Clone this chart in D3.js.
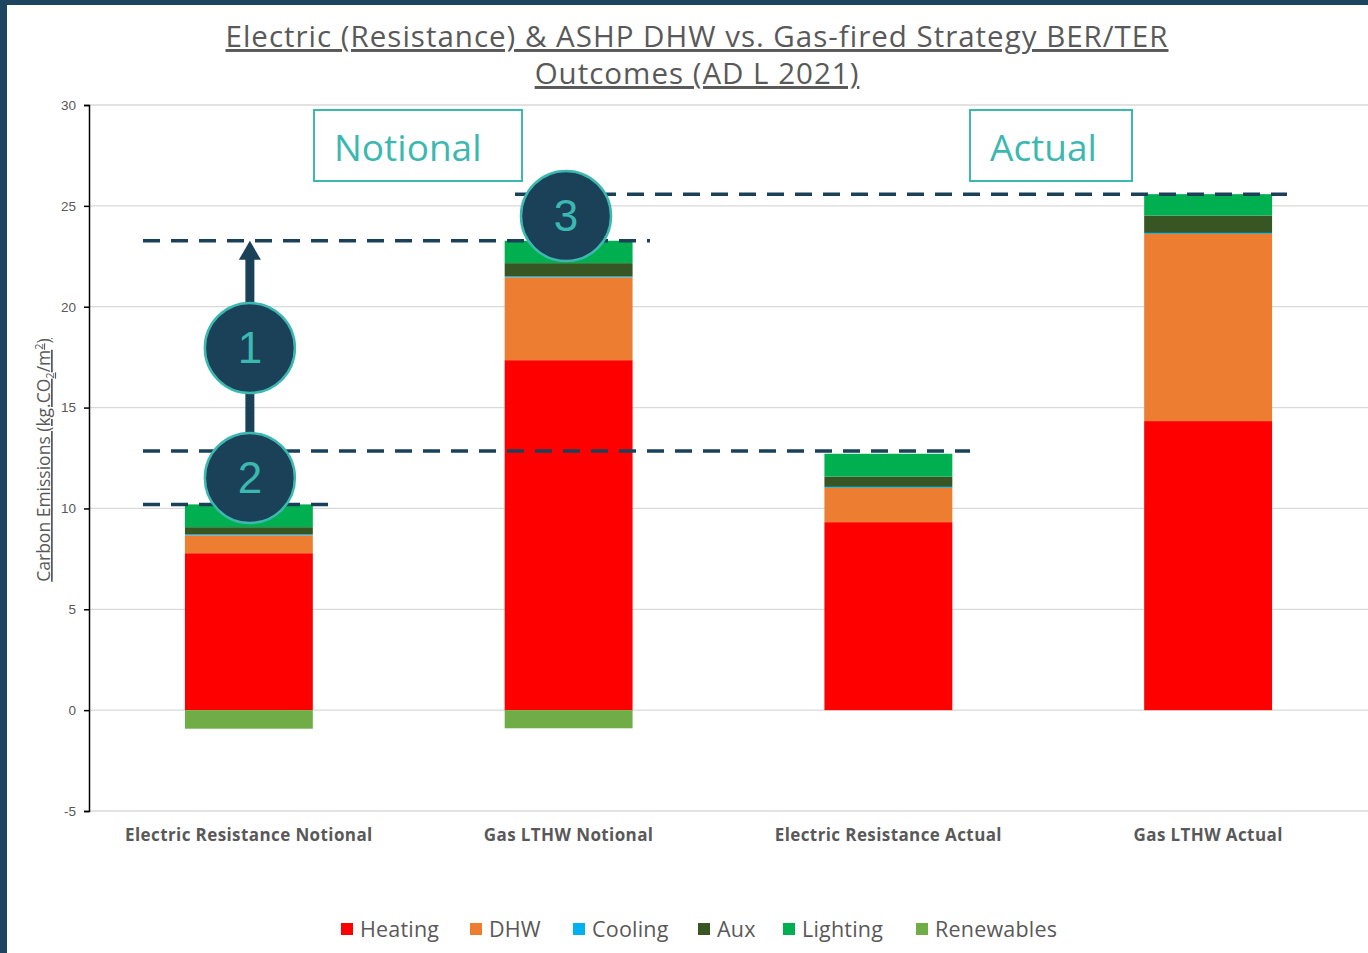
<!DOCTYPE html>
<html>
<head>
<meta charset="utf-8">
<script src="https://cdn.jsdelivr.net/npm/d3@7"></script>
<style>
  body { margin: 0; background: #fff; }
  svg { display: block; font-family: "Open Sans", "Noto Sans", sans-serif; }
</style>
</head>
<body>
<svg id="chart" width="1368" height="953"></svg>
<script>
var categories = ["Electric Resistance Notional", "Gas LTHW Notional", "Electric Resistance Actual", "Gas LTHW Actual"];
var seriesNames = ["Heating", "DHW", "Cooling", "Aux", "Lighting", "Renewables"];
var seriesColors = ["#ff0000", "#ed7d31", "#00b0f0", "#375623", "#00b050", "#70ad47"];
var heating = [7.78, 17.35, 9.32, 14.33];
var dhw = [0.88, 4.1, 1.7, 9.28];
var cooling = [0.05, 0.05, 0.05, 0.05];
var aux = [0.36, 0.66, 0.51, 0.86];
var lighting = [1.13, 1.11, 1.13, 1.06];
var renewables = [-0.92, -0.9, 0, 0];
var yTicks = [-5, 0, 5, 10, 15, 20, 25, 30];

var svg = d3.select("#chart");
var W = 1368, H = 953;
var darkBlue = "#1b4159", teal = "#3cb8b0";

// frame border top / left
svg.append("rect").attr("x", 0).attr("y", 0).attr("width", W).attr("height", 5).attr("fill", "#1e4560");
svg.append("rect").attr("x", 0).attr("y", 0).attr("width", 7).attr("height", H).attr("fill", "#1e4560");

var x = d3.scaleBand().domain(categories).range([89, 1368]).paddingInner(0.6).paddingOuter(0.3);
var y = d3.scaleLinear().domain([-5, 30]).range([811, 105]);

//gridlines
svg.append("g").selectAll("line").data(yTicks).enter().append("line")
    .attr("x1", 89).attr("x2", 1368)
    .attr("y1", d => y(d)).attr("y2", d => y(d))
    .attr("stroke", "#d9d9d9").attr("stroke-width", 1.3);

//stacked data
var valuesBySeries = [heating, dhw, cooling, aux, lighting, renewables];
var rows = categories.map((c, i) => {
    var r = { cat: c };
    seriesNames.forEach((s, j) => r[s] = valuesBySeries[j][i]);
    return r;
});
var stack = d3.stack().keys(seriesNames).offset(d3.stackOffsetDiverging);
var layers = stack(rows);

svg.append("g").selectAll("g").data(layers).enter().append("g")
    .attr("fill", (d, i) => seriesColors[i])
  .selectAll("rect").data(d => d).enter().append("rect")
    .attr("x", d => x(d.data.cat))
    .attr("width", x.bandwidth())
    .attr("y", d => y(Math.max(d[0], d[1])))
    .attr("height", d => Math.abs(y(d[0]) - y(d[1])));

//y axis
var yAxis = svg.append("g").attr("transform", "translate(89,0)")
    .call(d3.axisLeft(y).tickValues(yTicks).tickFormat(d => String(d)).tickSize(5).tickPadding(8));
yAxis.select(".domain").attr("stroke", "#000").attr("stroke-width", 1.5);
yAxis.selectAll(".tick line").attr("stroke", "#000").attr("stroke-width", 1.5);
yAxis.selectAll("text").attr("fill", "#595959").attr("font-size", 13.5);

//category labels
svg.append("g").selectAll("text").data(categories).enter().append("text")
    .attr("x", d => x(d) + x.bandwidth() / 2)
    .attr("y", 841)
    .attr("text-anchor", "middle")
    .attr("fill", "#595959").attr("font-size", 17).attr("font-weight", "bold")
    .attr("letter-spacing", 0.4)
    .text(d => d);

//axis title
var yt = svg.append("text")
    .attr("transform", "translate(50,460) rotate(-90)")
    .attr("text-anchor", "middle")
    .attr("fill", "#595959").attr("font-size", 17.5)
    .attr("text-decoration", "underline");
yt.append("tspan").text("Carbon Emissions (kg.CO");
yt.append("tspan").attr("font-size", 11).attr("dy", 4).text("2");
yt.append("tspan").attr("dy", -4).text("/m");
yt.append("tspan").attr("font-size", 11).attr("dy", -7).text("2");
yt.append("tspan").attr("dy", 7).text(")");

//title
var titleLines = ["Electric (Resistance) & ASHP DHW vs. Gas-fired Strategy BER/TER", "Outcomes (AD L 2021)"];
svg.append("g").selectAll("text").data(titleLines).enter().append("text")
    .attr("x", 697).attr("y", (d, i) => 47 + i * 37)
    .attr("text-anchor", "middle")
    .attr("fill", "#595959").attr("font-size", 29.5)
    .attr("letter-spacing", 1)
    .attr("text-decoration", "underline")
    .text(d => d);

//annotation dashed lines
var totals = categories.map((c, i) => heating[i] + dhw[i] + cooling[i] + aux[i] + lighting[i]);
var dashLines = [
    { v: totals[1], x1: 143, x2: 650 },
    { v: 12.85, x1: 143, x2: 970 },
    { v: totals[0], x1: 143, x2: 330 },
    { v: totals[3], x1: 515, x2: 1287 }
];
svg.append("g").selectAll("line").data(dashLines).enter().append("line")
    .attr("x1", d => d.x1).attr("x2", d => d.x2)
    .attr("y1", d => y(d.v)).attr("y2", d => y(d.v))
    .attr("stroke", darkBlue).attr("stroke-width", 3.5)
    .attr("stroke-dasharray", "17,11");

//arrow
var ax = x(categories[0]) + x.bandwidth() / 2 + 1;
svg.append("rect").attr("x", ax - 4.5).attr("y", y(totals[1]) + 16).attr("width", 9)
    .attr("height", y(12.85) - y(totals[1]) - 16).attr("fill", darkBlue);
svg.append("path")
    .attr("d", "M" + (ax - 11) + "," + (y(totals[1]) + 19) + " L" + ax + "," + y(totals[1]) + " L" + (ax + 11) + "," + (y(totals[1]) + 19) + " Z")
    .attr("fill", darkBlue);

//numbered circles
var markers = [
    { n: "1", cx: ax, cy: 348 },
    { n: "2", cx: ax, cy: 478 },
    { n: "3", cx: 566, cy: 216 }
];
var mk = svg.append("g").selectAll("g").data(markers).enter().append("g")
    .attr("transform", d => "translate(" + d.cx + "," + d.cy + ")");
mk.append("circle").attr("r", 45).attr("fill", darkBlue).attr("stroke", teal).attr("stroke-width", 2.5);
mk.append("text").attr("text-anchor", "middle").attr("dy", 15)
    .attr("fill", teal).attr("font-size", 44).attr("font-family", "Liberation Sans, Arial, sans-serif")
    .text(d => d.n);

//label boxes
var boxes = [
    { t: "Notional", x: 314, w: 208 },
    { t: "Actual", x: 970, w: 162 }
];
var bx = svg.append("g").selectAll("g").data(boxes).enter().append("g");
bx.append("rect").attr("x", d => d.x).attr("y", 110).attr("width", d => d.w).attr("height", 71)
    .attr("fill", "#fff").attr("stroke", teal).attr("stroke-width", 2);
bx.append("text").attr("x", d => d.x + 20).attr("y", 161)
    .attr("fill", teal).attr("font-size", 37)
    .text(d => d.t);

//legend
var legX = [341, 470, 573, 698, 783, 916];
var lg = svg.append("g").selectAll("g").data(seriesNames).enter().append("g")
    .attr("transform", (d, i) => "translate(" + legX[i] + ",929)");
lg.append("rect").attr("x", 0).attr("y", -6).attr("width", 12).attr("height", 12)
    .attr("fill", (d, i) => seriesColors[i]);
lg.append("text").attr("x", 19).attr("y", 8)
    .attr("fill", "#595959").attr("font-size", 21.5)
    .attr("letter-spacing", 0.2)
    .text(d => d);
</script>
</body>
</html>
